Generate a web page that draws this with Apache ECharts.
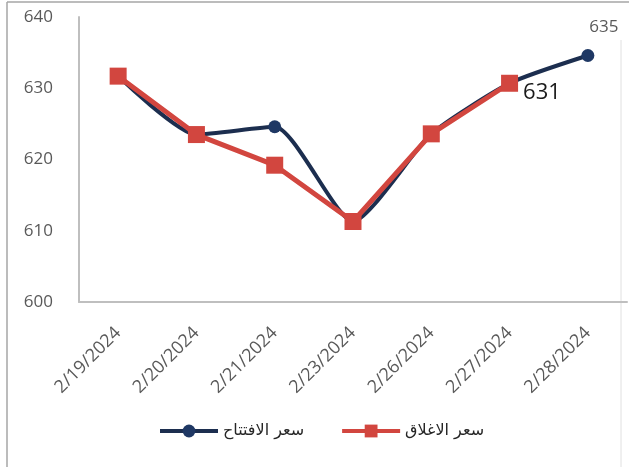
<!DOCTYPE html>
<html>
<head>
<meta charset="utf-8">
<script src="https://cdn.jsdelivr.net/npm/echarts@6/dist/echarts.min.js"></script>
<style>
html,body{margin:0;padding:0;background:#fff;}
#c{width:629px;height:467px;}
</style>
</head>
<body>
<div id="c"></div>
<script>
var categories = ['2/19/2024','2/20/2024','2/21/2024','2/23/2024','2/26/2024','2/27/2024','2/28/2024'];
var openName = 'سعر الافتتاح';
var closeName = 'سعر الاغلاق';
var openPrice = [631.7, 623.5, 624.6, 611.3, 623.6, 630.7, 634.6];
var closePrice = [631.7, 623.5, 619.2, 611.3, 623.6, 630.7, null];
var yTicks = [600, 610, 620, 630, 640];
var openLabelText = '635';
var closeLabelText = '631';

var chart = echarts.init(document.getElementById('c'));
chart.setOption({
  animation: false,
  backgroundColor: '#fff',
  graphic: [
    {type:'line', shape:{x1:7,y1:2,x2:629,y2:2}, style:{stroke:'#a6a6a6',lineWidth:1.5}},
    {type:'line', shape:{x1:7,y1:2,x2:7,y2:467}, style:{stroke:'#a6a6a6',lineWidth:1.5}},
    {type:'line', shape:{x1:621,y1:40,x2:621,y2:467}, style:{stroke:'#e0e0e0',lineWidth:1}}
  ],
  grid: {left: 79, right: 2, top: 17, bottom: 165},
  legend: {
    left: 153, top: 418,
    itemWidth: 58, itemHeight: 16, itemGap: 36,
    lineStyle: {width: 4},
    textStyle: {fontFamily: 'DejaVu Sans', fontSize: 16, color: '#262626'},
    data: [openName, closeName]
  },
  xAxis: {
    type: 'category',
    data: categories,
    boundaryGap: true,
    axisLine: {lineStyle: {color: '#bfbfbf', width: 2}},
    axisTick: {show: false},
    axisLabel: {rotate: 45, margin: 28, fontFamily: 'Open Sans', fontSize: 18, color: '#595959', interval: 0}
  },
  yAxis: {
    type: 'value',
    min: yTicks[0], max: yTicks[yTicks.length-1], interval: 10,
    axisLine: {show: true, lineStyle: {color: '#bfbfbf', width: 2}},
    axisTick: {show: false},
    splitLine: {show: false},
    axisLabel: {margin: 26, fontFamily: 'Open Sans', fontSize: 17, color: '#595959'}
  },
  series: [
    {
      name: openName, type: 'line', data: openPrice, smooth: 0.2,
      symbol: 'circle', symbolSize: 13,
      lineStyle: {color: '#1c2e4f', width: 4},
      itemStyle: {color: '#1f3864'},
      label: {
        show: true, position: 'top', offset: [16, -8],
        fontFamily: 'Open Sans', fontSize: 17, color: '#595959',
        formatter: function(p){ return p.dataIndex === openPrice.length-1 ? openLabelText : ''; }
      },
      z: 2
    },
    {
      name: closeName, type: 'line', data: closePrice,
      symbol: 'rect', symbolSize: 17,
      lineStyle: {color: '#d2463f', width: 5},
      itemStyle: {color: '#d2463f'},
      label: {
        show: true, position: 'right', offset: [0, 9],
        fontFamily: 'Open Sans', fontSize: 22, color: '#1a1a1a',
        formatter: function(p){ return p.dataIndex === 5 ? closeLabelText : ''; }
      },
      z: 3
    }
  ]
});
</script>
</body>
</html>
